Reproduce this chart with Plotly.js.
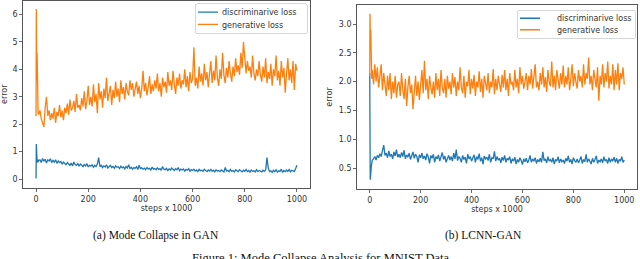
<!DOCTYPE html>
<html>
<head>
<meta charset="utf-8">
<script src="https://cdn.plot.ly/plotly-3.0.1.min.js"></script>
<style>
html,body{margin:0;padding:0;background:#fff;}
#chart{width:640px;height:259px;}
</style>
</head>
<body>
<div id="chart"></div>
<script>
// ---- data ----
var stepsHead = [0, 1, 2, 3, 4, 6, 8, 10];
var stepsTailStart = 15, stepsTailEnd = 1000, stepsTailStep = 5;

var ganGenerative = [
  2.3, 6.2, 5.7, 3.6, 4.6, 3.1, 2.4, 2.35,
  2.5, 2.2, 2.05, 1.9, 2.6, 3.0, 2.3, 2.5, 2.15, 2.4,
  2.2, 2.6, 2.05, 2.45, 2.3, 2.7, 2.25, 2.5, 2.15, 2.6,
  2.4, 2.75, 2.35, 2.9, 2.5, 2.6, 2.85, 2.45, 3.1, 2.6,
  2.7, 2.5, 2.95, 2.65, 3.2, 2.55, 2.85, 3.4, 2.7, 3.0,
  2.65, 3.45, 2.8, 3.1, 2.4, 3.5, 2.9, 3.2, 2.6, 3.3,
  2.95, 3.7, 2.85, 3.15, 3.4, 2.7, 3.25, 2.95, 3.55, 3.0,
  3.3, 2.8, 3.6, 3.1, 3.35, 2.9, 3.5, 3.2, 3.05, 3.6,
  3.25, 3.5, 3.0, 3.3, 3.55, 3.1, 3.4, 2.95, 3.3, 3.95,
  3.2, 3.5, 3.05, 3.35, 3.75, 3.1, 3.45, 3.2, 3.6, 3.3,
  3.85, 3.2, 3.5, 3.0, 3.7, 3.35, 3.55, 3.15, 3.9, 3.4,
  3.6, 3.25, 3.95, 3.45, 3.1, 3.7, 3.4, 3.85, 3.3, 3.6,
  3.45, 4.0, 3.35, 3.75, 3.2, 3.9, 3.5, 3.65, 4.8, 3.4,
  3.7, 3.3, 4.1, 3.55, 3.85, 3.4, 4.2, 3.6, 3.9, 3.35,
  3.75, 4.3, 3.5, 3.95, 3.6, 4.5, 3.7, 3.4, 4.0, 3.65,
  4.6, 3.8, 3.5, 4.05, 3.7, 4.3, 3.85, 3.55, 4.1, 3.75,
  4.4, 3.9, 4.15, 3.8, 4.6, 4.05, 5.0, 4.2, 3.85, 4.3,
  3.95, 4.1, 3.7, 4.5, 3.85, 3.6, 4.0, 3.75, 4.3, 3.8,
  3.55, 4.1, 3.7, 4.4, 3.5, 3.9, 3.65, 4.2, 3.4, 4.0,
  3.75, 4.5, 3.6, 3.95, 3.4, 4.3, 3.7, 4.05, 3.15, 3.85,
  4.4, 3.6, 4.0, 3.5, 4.3, 3.25, 4.2, 3.95
];
var ganDiscriminative = [
  0.02, 1.28, 0.3, 0.85, 0.6, 0.72, 0.62, 0.68,
  0.7, 0.6, 0.75, 0.65, 0.72, 0.58, 0.7, 0.66, 0.74, 0.6,
  0.68, 0.62, 0.7, 0.57, 0.66, 0.6, 0.64, 0.55, 0.62, 0.58,
  0.52, 0.6, 0.55, 0.5, 0.58, 0.48, 0.62, 0.53, 0.5, 0.56,
  0.47, 0.55, 0.5, 0.45, 0.53, 0.48, 0.56, 0.44, 0.5, 0.47,
  0.52, 0.43, 0.5, 0.46, 0.55, 0.78, 0.45, 0.5, 0.42, 0.48,
  0.44, 0.52, 0.4, 0.47, 0.5, 0.42, 0.46, 0.39, 0.48, 0.43,
  0.45, 0.38, 0.47, 0.41, 0.44, 0.37, 0.46, 0.4, 0.52, 0.38,
  0.43, 0.36, 0.42, 0.39, 0.45, 0.35, 0.5, 0.38, 0.41, 0.36,
  0.4, 0.34, 0.42, 0.37, 0.39, 0.33, 0.44, 0.36, 0.38, 0.34,
  0.41, 0.35, 0.38, 0.32, 0.46, 0.36, 0.34, 0.39, 0.31, 0.37,
  0.33, 0.4, 0.35, 0.31, 0.38, 0.34, 0.42, 0.3, 0.36, 0.33,
  0.37, 0.29, 0.35, 0.32, 0.38, 0.28, 0.34, 0.31, 0.36, 0.29,
  0.33, 0.27, 0.35, 0.3, 0.32, 0.28, 0.36, 0.3, 0.27, 0.33,
  0.29, 0.35, 0.28, 0.32, 0.26, 0.34, 0.29, 0.31, 0.27, 0.33,
  0.3, 0.26, 0.42, 0.29, 0.32, 0.27, 0.35, 0.28, 0.31, 0.26,
  0.33, 0.29, 0.27, 0.34, 0.3, 0.26, 0.32, 0.28, 0.35, 0.27,
  0.31, 0.25, 0.33, 0.28, 0.3, 0.26, 0.34, 0.27, 0.31, 0.29,
  0.26, 0.32, 0.28, 0.33, 0.78, 0.4, 0.27, 0.3, 0.24, 0.32,
  0.27, 0.34, 0.25, 0.3, 0.28, 0.36, 0.24, 0.31, 0.27, 0.33,
  0.28, 0.35, 0.26, 0.32, 0.29, 0.27, 0.38, 0.5
];
var lcnnGenerative = [
  2.1, 3.18, 3.0, 2.6, 2.9, 2.3, 2.05, 2.2,
  1.95, 2.3, 2.0, 2.25, 1.9, 2.1, 2.3, 1.85, 2.15, 1.95,
  1.75, 2.1, 1.85, 2.15, 1.7, 2.0, 1.8, 2.1, 1.72, 1.95,
  2.0, 1.75, 2.15, 1.85, 1.7, 2.05, 1.58, 1.9, 2.1, 1.8,
  1.95, 1.52, 1.85, 2.1, 1.75, 2.0, 1.68, 1.9, 2.2, 1.8,
  2.36, 1.85, 2.05, 1.7, 2.1, 1.9, 1.78, 2.0, 1.72, 2.15,
  1.85, 2.05, 1.75, 2.2, 1.9, 1.8, 2.05, 1.72, 2.1, 1.88,
  2.0, 1.78, 2.15, 1.9, 2.08, 1.75, 2.0, 1.85, 2.25, 1.9,
  1.8, 2.1, 1.72, 2.0, 1.92, 2.2, 1.78, 2.05, 1.88, 2.12,
  1.75, 2.0, 1.9, 2.18, 1.82, 2.05, 1.72, 2.1, 1.95, 1.85,
  2.15, 1.8, 2.0, 1.9, 2.22, 1.78, 2.05, 1.85, 2.1, 1.95,
  1.82, 2.12, 1.9, 2.2, 1.85, 2.05, 1.75, 2.15, 1.95, 2.0,
  1.85, 2.2, 1.9, 2.05, 1.8, 2.25, 1.95, 2.1, 1.88, 2.0,
  2.15, 1.85, 2.1, 1.95, 2.22, 1.88, 2.05, 2.3, 1.9, 2.0,
  1.85, 2.15, 1.95, 2.25, 1.9, 2.08, 1.82, 2.2, 2.0, 1.92,
  2.35, 1.9, 2.1, 1.85, 2.2, 2.0, 1.88, 2.15, 1.95, 2.28,
  1.9, 2.1, 1.95, 2.25, 1.85, 2.05, 2.3, 1.92, 2.15, 2.0,
  1.88, 2.2, 2.0, 2.1, 1.9, 2.3, 1.95, 2.15, 2.05, 2.42,
  1.95, 2.1, 1.85, 2.2, 2.0, 1.9, 2.25, 1.67, 2.1, 1.95,
  2.3, 1.9, 2.15, 2.0, 2.35, 1.88, 2.1, 1.95, 2.3, 1.85,
  2.2, 1.95, 2.32, 1.85, 2.15, 2.05, 2.25, 1.95
];
var lcnnDiscriminative = [
  2.15, 1.3, 0.3, 0.32, 0.4, 0.52, 0.6, 0.64,
  0.66, 0.7, 0.64, 0.72, 0.68, 0.75, 0.7, 0.78, 0.9, 0.72,
  0.76, 0.68, 0.8, 0.7, 0.74, 0.66, 0.78, 0.71, 0.82, 0.69,
  0.74, 0.68, 0.77, 0.7, 0.81, 0.66, 0.73, 0.69, 0.76, 0.65,
  0.72, 0.78, 0.67, 0.74, 0.7, 0.6, 0.73, 0.68, 0.76, 0.66,
  0.71, 0.64, 0.75, 0.69, 0.58, 0.72, 0.67, 0.74, 0.6, 0.7,
  0.66, 0.73, 0.62, 0.7, 0.77, 0.65, 0.71, 0.6, 0.68, 0.72,
  0.64, 0.7, 0.62, 0.76, 0.66, 0.82, 0.63, 0.7, 0.67, 0.6,
  0.72, 0.65, 0.69, 0.58, 0.74, 0.66, 0.7, 0.62, 0.68, 0.73,
  0.6, 0.7, 0.65, 0.75, 0.62, 0.68, 0.57, 0.71, 0.66, 0.69,
  0.63, 0.74, 0.6, 0.68, 0.66, 0.79, 0.62, 0.7, 0.64, 0.67,
  0.59, 0.69, 0.63, 0.72, 0.6, 0.67, 0.64, 0.7, 0.58, 0.66,
  0.62, 0.69, 0.57, 0.65, 0.6, 0.68, 0.63, 0.56, 0.66, 0.61,
  0.67, 0.59, 0.64, 0.72, 0.6, 0.66, 0.62, 0.68, 0.58, 0.65,
  0.61, 0.67, 0.6, 0.78, 0.63, 0.66, 0.59, 0.7, 0.62, 0.65,
  0.6, 0.68, 0.57, 0.65, 0.62, 0.7, 0.59, 0.66, 0.61, 0.64,
  0.58, 0.67, 0.62, 0.71, 0.6, 0.65, 0.57, 0.68, 0.63, 0.6,
  0.66, 0.59, 0.64, 0.7, 0.58, 0.65, 0.61, 0.74, 0.6, 0.66,
  0.62, 0.57, 0.67, 0.6, 0.65, 0.71, 0.58, 0.64, 0.61, 0.66,
  0.59, 0.7, 0.62, 0.65, 0.58, 0.68, 0.6, 0.66, 0.62, 0.69,
  0.6, 0.67, 0.58, 0.65, 0.62, 0.7, 0.6, 0.64
];
var seriesNames = ['discriminarive loss', 'generative loss'];
var xTickVals = [0, 200, 400, 600, 800, 1000];
var yTickValsA = [0, 1, 2, 3, 4, 5, 6];
var yTickValsB = [0.5, 1.0, 1.5, 2.0, 2.5, 3.0];
var yTickTextB = ['0.5', '1.0', '1.5', '2.0', '2.5', '3.0'];
var captions = ['(a) Mode Collapse in GAN', '(b) LCNN-GAN', 'Figure 1: Mode Collapse Analysis for MNIST Data'];

// ---- build ----
var steps = stepsHead.slice();
for (var s = stepsTailStart; s <= stepsTailEnd; s += stepsTailStep) steps.push(s);

var BLUE = '#1f77b4', ORANGE = '#ff7f0e';
var tickFont = {family: 'DejaVu Sans, sans-serif', size: 8, color: '#333'};
var LW = 1.3;

var traces = [
  {x: steps, y: ganDiscriminative, name: seriesNames[0], type: 'scatter', mode: 'lines',
   line: {color: BLUE, width: LW}, xaxis: 'x', yaxis: 'y', legend: 'legend'},
  {x: steps, y: ganGenerative, name: seriesNames[1], type: 'scatter', mode: 'lines',
   line: {color: ORANGE, width: LW}, xaxis: 'x', yaxis: 'y', legend: 'legend'},
  {x: steps, y: lcnnDiscriminative, name: seriesNames[0], type: 'scatter', mode: 'lines',
   line: {color: BLUE, width: LW}, xaxis: 'x2', yaxis: 'y2', legend: 'legend2'},
  {x: steps, y: lcnnGenerative, name: seriesNames[1], type: 'scatter', mode: 'lines',
   line: {color: ORANGE, width: LW}, xaxis: 'x2', yaxis: 'y2', legend: 'legend2'}
];

function axisBase() {
  return {
    showline: true, mirror: true, linecolor: '#444', linewidth: 0.9,
    ticks: 'outside', ticklen: 3, tickwidth: 0.8, tickcolor: '#444',
    showgrid: false, zeroline: false, tickfont: tickFont, fixedrange: true
  };
}
var W = 640, H = 259;
var xa = Object.assign(axisBase(), {
  domain: [23 / W, 310 / W], range: [-50, 1050], anchor: 'y',
  tickmode: 'array', tickvals: xTickVals,
  title: {text: 'steps x 1000', font: tickFont, standoff: 2}
});
var ya = Object.assign(axisBase(), {
  domain: [1 - 188 / H, 1 - 0.5 / H], range: [-0.327, 6.51], anchor: 'x',
  tickmode: 'array', tickvals: yTickValsA,
  title: {text: 'error', font: tickFont, standoff: 5}
});
var xb = Object.assign(axisBase(), {
  domain: [357 / W, 637 / W], range: [-50, 1050], anchor: 'y2',
  tickmode: 'array', tickvals: xTickVals,
  title: {text: 'steps x 1000', font: tickFont, standoff: 2}
});
var yb = Object.assign(axisBase(), {
  domain: [1 - 189 / H, 1 - 5 / H], range: [0.137, 3.33], anchor: 'x2',
  tickmode: 'array', tickvals: yTickValsB, ticktext: yTickTextB,
  title: {text: 'error', font: tickFont, standoff: 4}
});

var legendBase = {
  bgcolor: 'rgba(255,255,255,0.85)', bordercolor: '#ccc', borderwidth: 0.8,
  font: {family: 'DejaVu Sans, sans-serif', size: 8, color: '#333'},
  xanchor: 'left', yanchor: 'top', tracegroupgap: 0, itemwidth: 30
};
var capFont = {family: 'Liberation Serif, Times New Roman, serif', size: 11.5, color: '#111'};

// legend boxes as seen in the figure (pixel frame): left, top, width, height
var legendBoxes = {legend: [195, 3.5, 112, 29.5], legend2: [517, 10, 118, 28]};

var layout = {
  width: W, height: H,
  margin: {l: 0, r: 0, t: 0, b: 0},
  paper_bgcolor: '#fff', plot_bgcolor: '#fff',
  showlegend: true,
  xaxis: xa, yaxis: ya, xaxis2: xb, yaxis2: yb,
  legend: Object.assign({}, legendBase, {x: legendBoxes.legend[0] / W, y: 1 - legendBoxes.legend[1] / H}),
  legend2: Object.assign({}, legendBase, {x: legendBoxes.legend2[0] / W, y: 1 - legendBoxes.legend2[1] / H}),
  annotations: [
    {text: captions[0], xref: 'paper', yref: 'paper', x: 156 / W, y: 1 - 235 / H,
     xanchor: 'center', yanchor: 'middle', showarrow: false, font: capFont},
    {text: captions[1], xref: 'paper', yref: 'paper', x: 483 / W, y: 1 - 235 / H,
     xanchor: 'center', yanchor: 'middle', showarrow: false, font: capFont},
    {text: captions[2], xref: 'paper', yref: 'paper', x: 320 / W, y: 1 - 257.5 / H,
     xanchor: 'center', yanchor: 'middle', showarrow: false,
     font: {family: capFont.family, size: 12.5, color: '#111'}}
  ]
};

// compact the legends to the matplotlib-like size of the reference
function compactLegends() {
  Object.keys(legendBoxes).forEach(function (cls) {
    try {
      var box = legendBoxes[cls];
      var g = document.querySelector('g.' + cls);
      if (!g) return;
      g.setAttribute('transform', 'translate(' + box[0] + ',' + box[1] + ')');
      var bg = g.querySelector('rect.bg');
      if (bg) {
        bg.setAttribute('width', box[2]);
        bg.setAttribute('height', box[3]);
        bg.setAttribute('rx', 2); bg.setAttribute('ry', 2);
      }
      var scroll = g.querySelector('g.scrollbox');
      if (scroll) scroll.setAttribute('transform', '');
      var items = g.querySelectorAll('g.traces');
      var step = (box[3] - 5) / items.length;
      for (var i = 0; i < items.length; i++) {
        var it = items[i];
        it.setAttribute('transform', 'translate(0,' + (2.5 + step * (i + 0.5)) + ')');
        var txt = it.querySelector('text.legendtext');
        if (txt) {
          txt.setAttribute('x', 27);
          var tsp = txt.querySelectorAll('tspan');
          for (var k = 0; k < tsp.length; k++) if (tsp[k].hasAttribute('x')) tsp[k].setAttribute('x', 27);
        }
        var paths = it.querySelectorAll('path.js-line');
        for (var p = 0; p < paths.length; p++) paths[p].setAttribute('d', 'M3,0h20');
      }
    } catch (e) { /* keep plotly's default legend */ }
  });
}

Plotly.newPlot('chart', traces, layout, {displayModeBar: false, staticPlot: true}).then(compactLegends);
</script>
</body>
</html>
